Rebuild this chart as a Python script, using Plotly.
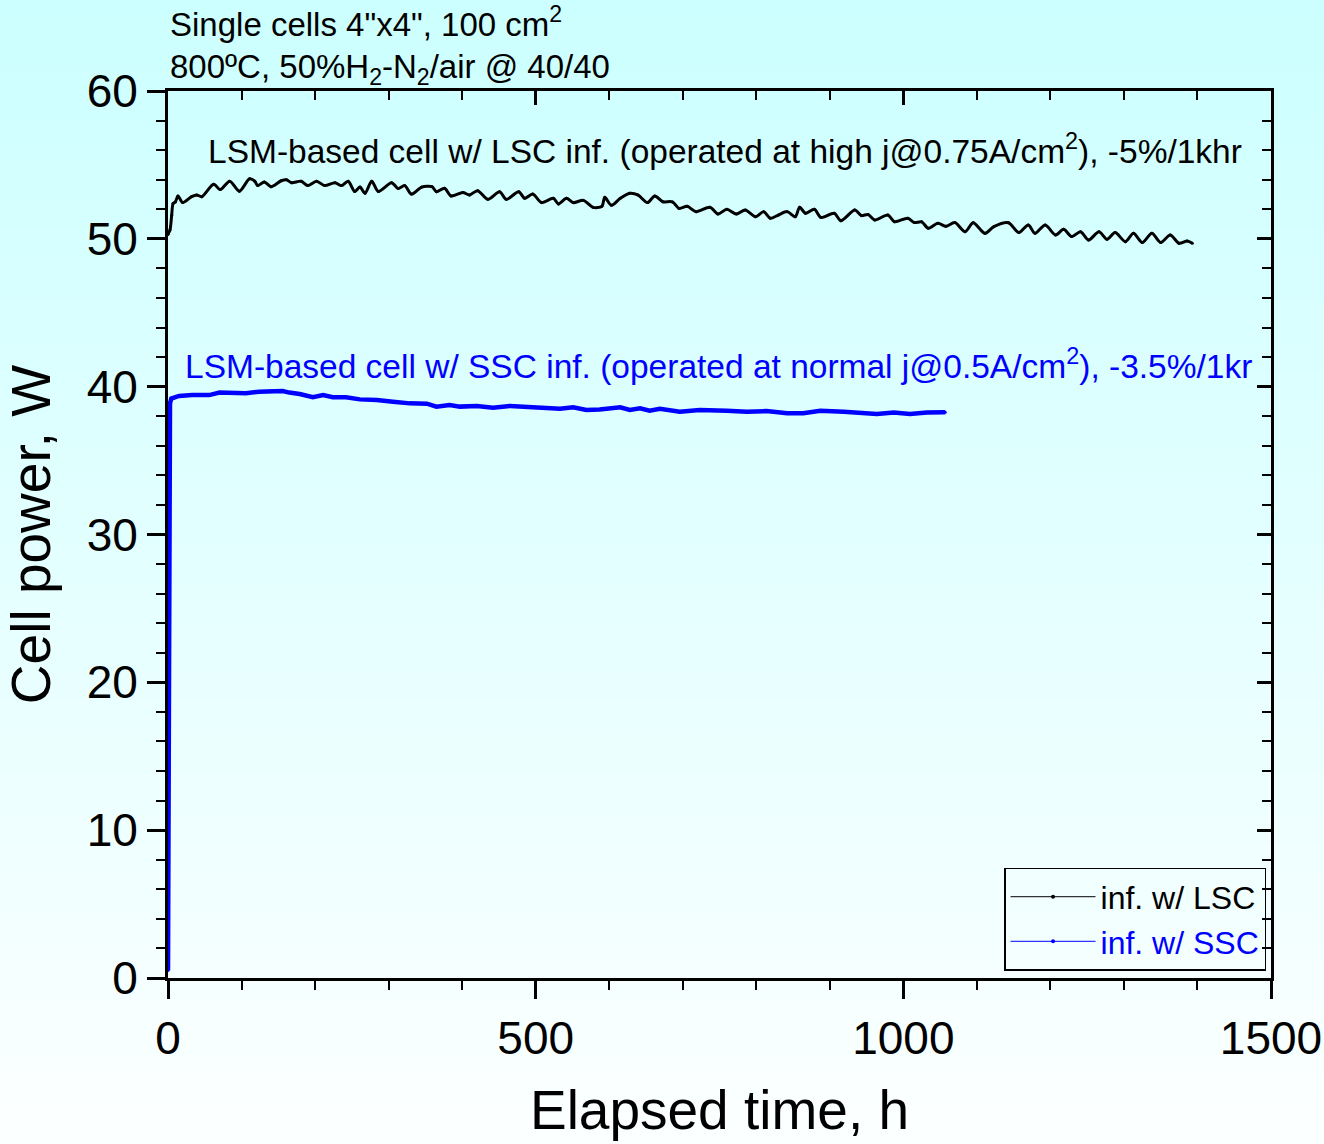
import plotly.graph_objects as go

# ---------------- data ----------------
lsc_time = [0, 2.7, 5, 7, 10, 13.6, 20, 32, 39, 46,
            62, 71, 84, 97, 111, 118, 122, 131, 140, 154,
            161, 168, 181, 190, 202, 213, 227, 236, 245, 254,
            261, 268, 277, 286, 304, 313, 322, 331, 345, 359,
            365, 376, 385, 401, 410, 421, 435, 451, 460, 477,
            485, 496, 508, 524, 531, 542, 551, 565, 578, 590,
            594, 603, 615, 628, 639, 652, 662, 673, 686, 695,
            706, 718, 737, 748, 760, 773, 785, 799, 810, 819,
            830, 842, 853, 859, 867, 879, 888, 906, 915, 934,
            943, 952, 961, 979, 988, 1006, 1015, 1025, 1034, 1047,
            1058, 1070, 1084, 1095, 1111, 1123, 1143, 1157, 1170, 1179,
            1193, 1207, 1218, 1229, 1241, 1252, 1266, 1277, 1288, 1302,
            1313, 1325, 1338, 1350, 1363, 1375, 1386, 1393]
lsc_power = [50.3, 50.6, 51.6, 52.4, 52.5, 52.9, 52.45, 52.85, 52.97, 52.85,
             53.7, 53.33, 53.9, 53.22, 54.06, 53.9, 53.6, 53.85, 53.53, 53.93,
             54.0, 53.8, 53.9, 53.6, 53.9, 53.6, 53.8, 53.6, 53.9, 53.2,
             53.5, 53.08, 53.9, 53.2, 53.8, 53.4, 53.6, 53.03, 53.5, 53.53,
             53.19, 53.42, 52.9, 53.13, 52.97, 53.26, 52.67, 53.19, 52.67, 53.19,
             52.74, 53.03, 52.45, 52.74, 52.36, 52.74, 52.45, 52.6, 52.13, 52.2,
             52.81, 52.27, 52.74, 53.08, 52.97, 52.45, 52.9, 52.51, 52.5, 52.06,
             52.2, 51.84, 52.13, 51.68, 52.0, 51.68, 51.95, 51.5, 51.84, 51.39,
             51.61, 51.84, 51.5, 52.13, 51.73, 52.0, 51.45, 51.73, 51.23, 51.95,
             51.57, 51.65, 51.28, 51.61, 51.16, 51.39, 51.1, 51.15, 50.71, 51.05,
             50.85, 51.1, 50.48, 51.09, 50.37, 50.82, 51.09, 50.42, 50.94, 50.37,
             50.94, 50.26, 50.64, 50.15, 50.48, 49.92, 50.48, 49.97, 50.42, 49.81,
             50.37, 49.75, 50.37, 49.75, 50.26, 49.7, 49.86, 49.7]

ssc_time = [0, 0.2, 0.4, 0.6, 0.8, 1.0, 1.3, 1.7, 2.7, 4.5,
            15, 33, 56, 70, 93, 106, 124, 138, 156, 165,
            179, 197, 211, 224, 242, 261, 284, 306, 329, 352,
            365, 383, 397, 420, 442, 465, 488, 510, 533, 551,
            569, 587, 615, 628, 642, 655, 669, 696, 723, 760,
            787, 814, 842, 864, 887, 919, 941, 964, 987, 1009,
            1032, 1057]
ssc_power = [0.5, 5, 10, 18, 26, 33, 37, 38.3, 38.87, 39.2,
             39.37, 39.43, 39.43, 39.6, 39.6, 39.55, 39.66, 39.7, 39.7, 39.6,
             39.5, 39.28, 39.43, 39.28, 39.28, 39.14, 39.1, 38.98, 38.87, 38.85,
             38.65, 38.76, 38.65, 38.7, 38.58, 38.7, 38.62, 38.54, 38.5, 38.6,
             38.42, 38.45, 38.6, 38.42, 38.53, 38.37, 38.5, 38.31, 38.42, 38.37,
             38.31, 38.35, 38.2, 38.2, 38.37, 38.31, 38.25, 38.15, 38.25, 38.15,
             38.25, 38.27]

series_names = ["inf. w/ LSC", "inf. w/ SSC"]
x_title = "Elapsed time, h"
y_title = "Cell power, W"
header_lines = ["Single cells 4\"x4\", 100 cm<sup>2</sup>",
                "800ºC, 50%H<sub>2</sub>-N<sub>2</sub>/air @ 40/40"]
note_lsc = "LSM-based cell w/ LSC inf. (operated at high j@0.75A/cm<sup>2</sup>), -5%/1khr"
note_ssc = "LSM-based cell w/ SSC inf. (operated at normal j@0.5A/cm<sup>2</sup>), -3.5%/1kr"

FONT = "Liberation Sans"
BLUE = "#0000ff"

fig = go.Figure()
fig.add_trace(go.Scatter(x=lsc_time, y=lsc_power, name=series_names[0],
                         mode="lines+markers", showlegend=False,
                         line=dict(color="black", width=3, shape="spline", smoothing=0.8),
                         marker=dict(size=3, color="black")))
fig.add_trace(go.Scatter(x=ssc_time, y=ssc_power, name=series_names[1],
                         mode="lines+markers", showlegend=False,
                         line=dict(color=BLUE, width=4.5),
                         marker=dict(size=3, color=BLUE)))
# legend entries (thin line with a small dot, as in the original legend)
fig.add_trace(go.Scatter(x=[None], y=[None], name=series_names[0],
                         mode="lines+markers", line=dict(color="black", width=1),
                         marker=dict(size=4, color="black")))
fig.add_trace(go.Scatter(x=[None], y=[None],
                         name="<span style='color:#0000ff'>" + series_names[1] + "</span>",
                         mode="lines+markers", line=dict(color=BLUE, width=1),
                         marker=dict(size=4, color=BLUE)))
# invisible trace to activate mirrored top/right axes
fig.add_trace(go.Scatter(x=[0], y=[0], xaxis="x2", yaxis="y2", mode="markers",
                         marker=dict(opacity=0), showlegend=False, hoverinfo="skip"))

# background gradient (light cyan to near white)
W, H = 1324, 1144
ml, mr, mt, mb = 168, 53, 91, 166
pw, ph = W - ml - mr, H - mt - mb
nb = 80
top_rgb = (204, 255, 255)
bot_rgb = (252, 255, 255)
shapes = []
y_top = 1 + mt / ph
y_bot = -mb / ph
for i in range(nb):
    f = i / (nb - 1)
    r = round(top_rgb[0] + (bot_rgb[0] - top_rgb[0]) * f)
    g = round(top_rgb[1] + (bot_rgb[1] - top_rgb[1]) * f)
    b = round(top_rgb[2] + (bot_rgb[2] - top_rgb[2]) * f)
    y1 = y_top - (y_top - y_bot) * i / nb
    y0 = y_top - (y_top - y_bot) * (i + 1) / nb - 0.002
    shapes.append(dict(type="rect", xref="paper", yref="paper",
                       x0=-ml / pw - 0.01, x1=1 + mr / pw + 0.01, y0=y0, y1=y1,
                       fillcolor=f"rgb({r},{g},{b})", line=dict(width=0), layer="below"))

axis_common = dict(showline=True, linecolor="black", linewidth=3, automargin=False,
                   tickcolor="black", tickwidth=3, showgrid=False, zeroline=False,
                   tickfont=dict(family=FONT, size=46, color="black"))

fig.update_layout(
    width=W, height=H,
    margin=dict(l=ml, r=mr, t=mt, b=mb, autoexpand=False),
    paper_bgcolor="rgb(230,255,255)",
    plot_bgcolor="rgba(0,0,0,0)",
    shapes=shapes,
    font=dict(family=FONT, color="black"),
    xaxis=dict(range=[0, 1500], dtick=500, ticks="outside", ticklen=18,
               minor=dict(dtick=100, ticks="outside", ticklen=9, tickwidth=2, tickcolor="black"),
               title=dict(text=x_title, font=dict(family=FONT, size=55), standoff=28),
               **axis_common),
    yaxis=dict(range=[0, 60], dtick=10, ticks="outside", ticklen=18,
               minor=dict(dtick=2, ticks="outside", ticklen=9, tickwidth=2, tickcolor="black"),
               title=dict(text=y_title, font=dict(family=FONT, size=55), standoff=20),
               **axis_common),
    xaxis2=dict(range=[0, 1500], dtick=500, overlaying="x", side="top", anchor="y",
                ticks="inside", ticklen=14, showticklabels=False,
                minor=dict(dtick=100, ticks="inside", ticklen=9, tickwidth=2, tickcolor="black"),
                **axis_common),
    yaxis2=dict(range=[0, 60], dtick=10, overlaying="y", side="right", anchor="x",
                ticks="inside", ticklen=14, showticklabels=False,
                minor=dict(dtick=2, ticks="inside", ticklen=9, tickwidth=2, tickcolor="black"),
                **axis_common),
    legend=dict(x=0.9955, y=0.008, xanchor="right", yanchor="bottom",
                bgcolor="rgba(0,0,0,0)", bordercolor="black", borderwidth=1.5,
                font=dict(family=FONT, size=32, color="black"),
                tracegroupgap=0, itemwidth=85),
    showlegend=True,
)

fig.add_annotation(xref="paper", yref="paper", x=0, y=1 + (mt - 22) / ph,
                   xanchor="left", yanchor="middle", showarrow=False, align="left",
                   text=header_lines[0], font=dict(family=FONT, size=33, color="black"))
fig.add_annotation(xref="paper", yref="paper", x=0, y=1 + (mt - 69) / ph,
                   xanchor="left", yanchor="middle", showarrow=False, align="left",
                   text=header_lines[1], font=dict(family=FONT, size=33, color="black"))
fig.add_annotation(xref="x", yref="y", x=52, y=56.1, xanchor="left", yanchor="middle",
                   showarrow=False, text=note_lsc,
                   font=dict(family=FONT, size=33.5, color="black"))
fig.add_annotation(xref="x", yref="y", x=20, y=41.5, xanchor="left", yanchor="middle",
                   showarrow=False, text=note_ssc,
                   font=dict(family=FONT, size=33.5, color=BLUE))

fig.write_html("out.html", config={"displayModeBar": False},
               post_script="document.body.style.margin='0';document.body.style.overflow='hidden';")
